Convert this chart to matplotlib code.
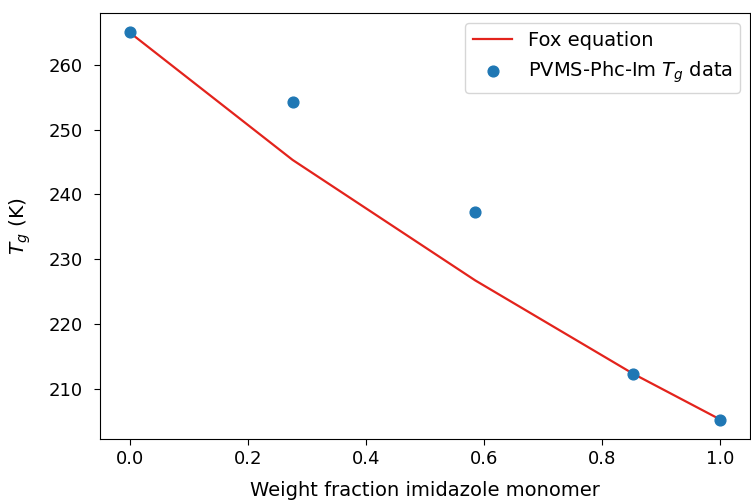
import matplotlib
matplotlib.use("Agg")
import matplotlib.pyplot as plt

weight_fraction = [0.0, 0.276, 0.585, 0.852, 1.0]
fox_tg = [265.0, 245.3, 226.7, 212.3, 205.2]
measured_tg = [265.0, 254.3, 237.3, 212.2, 205.2]

plt.rcParams['font.family'] = 'DejaVu Sans'
fig = plt.figure(figsize=(7.51, 5.01), dpi=100)
ax = fig.add_axes([100/751, 62/501, 650/751, 426/501])

ax.plot(weight_fraction, fox_tg, color='#e3231c', lw=1.6, label='Fox equation')
ax.scatter(weight_fraction, measured_tg, s=60, color='#1f77b4', label='PVMS-Phc-Im $T_g$ data', zorder=3)

ax.set_xlabel('Weight fraction imidazole monomer', fontsize=14, labelpad=9)
ax.set_ylabel('$T_g$ (K)', fontsize=14.5, labelpad=11)
ax.tick_params(labelsize=13, length=4.5)
ax.tick_params(axis='y', pad=8)
ax.set_xticks([0.0, 0.2, 0.4, 0.6, 0.8, 1.0])
ax.set_yticks([210, 220, 230, 240, 250, 260])
ax.legend(loc='upper right', fontsize=14)

fig.savefig('out.png', dpi=100)
